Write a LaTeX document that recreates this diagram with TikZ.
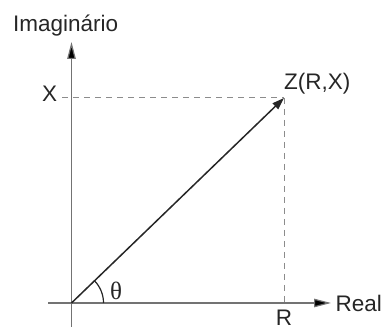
\documentclass[tikz,border=0pt]{standalone}
\usepackage{fontspec}
\setmainfont{Liberation Sans}
\newfontfamily\thetafont{Liberation Serif}
\usetikzlibrary{arrows.meta}
\begin{document}
\begin{tikzpicture}[x=1pt,y=1pt,
  axis/.style={draw=black!55,line width=1.2pt,-{Triangle[length=17pt,width=8.5pt,fill=black]}},
  guide/.style={draw=black!45,line width=1pt,dash pattern=on 6pt off 5pt},
  vec/.style={draw=black!85,line width=1.5pt,-{Triangle[length=12pt,width=8pt]}},
  lbl/.style={inner sep=0pt,font=\fontsize{22.5}{26}\selectfont,text=black!85}]
\useasboundingbox (0,0) rectangle (384,329);
\coordinate (O) at (71.5,26);
\coordinate (Z) at (284,231);
\coordinate (vbot) at (71.5,2);
\coordinate (vtop) at (71.5,287);
\coordinate (hleft) at (48,26);
\coordinate (hright) at (331,26);
\coordinate (xl) at (62,231);
\coordinate (rb) at (284,23);
\draw[axis] (vbot) -- (vtop);
\draw[axis] (hleft) -- (hright);
\draw[guide] (xl) -- (Z);
\draw[guide] (Z) -- (rb);
\draw[vec] (O) -- (Z);
\draw[black!85,line width=1.2pt] ([shift={(0:32)}]O) arc[start angle=0,end angle=44,radius=32];
\node[lbl,anchor=base west] (im) at (13,297) {Imaginário};
\node[lbl,anchor=base west] (xlab) at (42,227) {X};
\node[lbl,anchor=base west] (zlab) at (284,239) {Z(R,X)};
\node[lbl,anchor=base west] (real) at (335.5,17) {Real};
\node[lbl,anchor=south] (rlab) at (284,3.5) {R};
\node[lbl,font=\thetafont\fontsize{25}{28}\selectfont] (th) at (116,38) {θ};
\end{tikzpicture}
\end{document}
